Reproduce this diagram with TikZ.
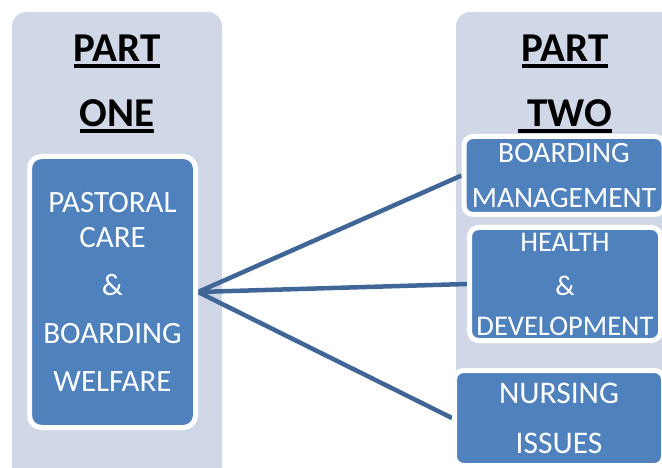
\documentclass[tikz,border=0pt]{standalone}
\usepackage{fontspec}
\setmainfont{Carlito}
\usetikzlibrary{backgrounds}
\definecolor{panelgray}{RGB}{208,216,232}
\definecolor{boxblue}{RGB}{79,129,189}
\definecolor{linkblue}{RGB}{64,102,152}
\newcommand{\titleline}[1]{\setbox0\hbox{#1}\rlap{\rule[-6.5pt]{\wd0}{4pt}}\box0}
\begin{document}
\begin{tikzpicture}[x=1pt,y=-1pt,
    panel/.style={fill=panelgray,rounded corners=14pt},
    topic/.style={draw=white,line width=5pt,fill=boxblue,rounded corners=9pt,text=white,align=center,inner sep=0pt},
    title/.style={anchor=base,inner sep=0pt,font=\fontsize{41}{49}\selectfont\bfseries},
    link/.style={linkblue,line width=4.5pt}]
            \useasboundingbox (0,0) rectangle (662,468);
            \clip (0,0) rectangle (662,468);
            \node[title] (partone) at (117,62) {\titleline{PART}};
            \node[title] (one) at (117,127) {\titleline{ONE}};
            \node[title] (parttwo) at (565,62) {\titleline{PART}};
            \node[title] (two) at (565,127) {\titleline{\ TWO}};
            \node[topic,rounded corners=12pt,minimum width=166pt,minimum height=271pt,font=\fontsize{31}{48}\selectfont] (pastoral) at (112.5,292) {PASTORAL\\[-13pt]CARE\\\&\\BOARDING\\WELFARE};
            \node[topic,minimum width=200pt,minimum height=78pt,font=\fontsize{29.5}{45}\selectfont] (boarding) at (564,175.5) {BOARDING\\MANAGEMENT};
            \node[topic,minimum width=191pt,minimum height=113pt,font=\fontsize{28.5}{40}\selectfont] (health) at (565,284) {HEALTH\\[4pt]\&\\DEVELOPMENT};
            \node[topic,minimum width=209pt,minimum height=95pt,font=\fontsize{31.5}{50}\selectfont] (nursing) at (559,418) {NURSING\\ISSUES};
            \begin{pgfonlayer}{background}
            \fill[panel] (12,12) rectangle (222,490);
            \fill[panel] (456,12) rectangle (700,420);
            \draw[link] (pastoral.east) -- (boarding.west);
            \draw[link] (pastoral.east) -- (health.west);
            \draw[link] (pastoral.east) -- (nursing.west);
            \end{pgfonlayer}
\end{tikzpicture}
\end{document}
